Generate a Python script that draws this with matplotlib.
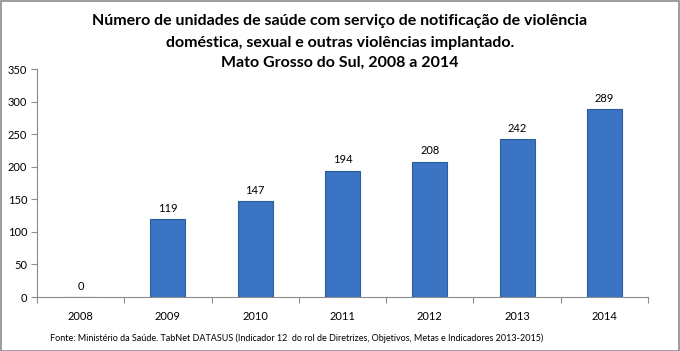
import matplotlib
matplotlib.use("Agg")
import matplotlib.pyplot as plt
from matplotlib.patches import Rectangle

years = ["2008", "2009", "2010", "2011", "2012", "2013", "2014"]
values = [0, 119, 147, 194, 208, 242, 289]
yticks = [0, 50, 100, 150, 200, 250, 300, 350]
title_lines = ["Número de unidades de saúde com serviço de notificação de violência",
               "doméstica, sexual e outras violências implantado.",
               "Mato Grosso do Sul, 2008 a 2014"]
source = ("Fonte: Ministério da Saúde. TabNet DATASUS (Indicador 12  do rol de Diretrizes, "
          "Objetivos, Metas e Indicadores 2013-2015)")

plt.rcParams['font.family'] = ['Lato', 'DejaVu Sans']

W, H = 680, 351
fig = plt.figure(figsize=(W / 100, H / 100), dpi=100)
fig.patch.set_facecolor("white")
fig.add_artist(Rectangle((0.5 / W, 0.5 / H), 1 - 1.5 / W, 1 - 1.5 / H, transform=fig.transFigure,
                         fill=False, edgecolor="#8c8c8c", linewidth=1.2))

left, right = 37 / W, 648 / W
bottom, top = 1 - 297 / H, 1 - 69 / H
ax = fig.add_axes([left, bottom, right - left, top - bottom])

x = range(len(years))
ax.bar(x, values, width=0.4, color="#3A74C2", edgecolor="#2B5C9E", linewidth=0.8, zorder=2)
for xi, v in zip(x, values):
    ax.text(xi, v + 8, str(v), ha="center", va="bottom", fontsize=8, color="black")

ax.set_xlim(-0.5, len(years) - 0.5)
ax.set_ylim(0, 350)
ax.set_yticks(yticks)
ax.set_yticklabels([str(t) for t in yticks], fontsize=8)
ax.set_xticks([i + 0.5 for i in range(-1, len(years))], minor=False)
ax.set_xticklabels([])
ax.set_xticks(list(x), minor=True)
ax.set_xticklabels(years, minor=True, fontsize=8)
ax.tick_params(axis="x", which="major", length=4, color="#8c8c8c")
ax.tick_params(axis="x", which="minor", length=0, pad=10)
ax.tick_params(axis="y", length=4, color="#8c8c8c", pad=3)
for s in ["top", "right"]:
    ax.spines[s].set_visible(False)
for s in ["left", "bottom"]:
    ax.spines[s].set_color("#8c8c8c")

for yc, line in zip([21, 43, 63], title_lines):
    fig.text(0.5, 1 - yc / H, line, ha="center", va="center", fontsize=11.5, fontweight="bold")
fig.text(50 / W, 1 - 338 / H, source, ha="left", va="center", fontsize=6.5)

fig.savefig("out.png", dpi=100)
